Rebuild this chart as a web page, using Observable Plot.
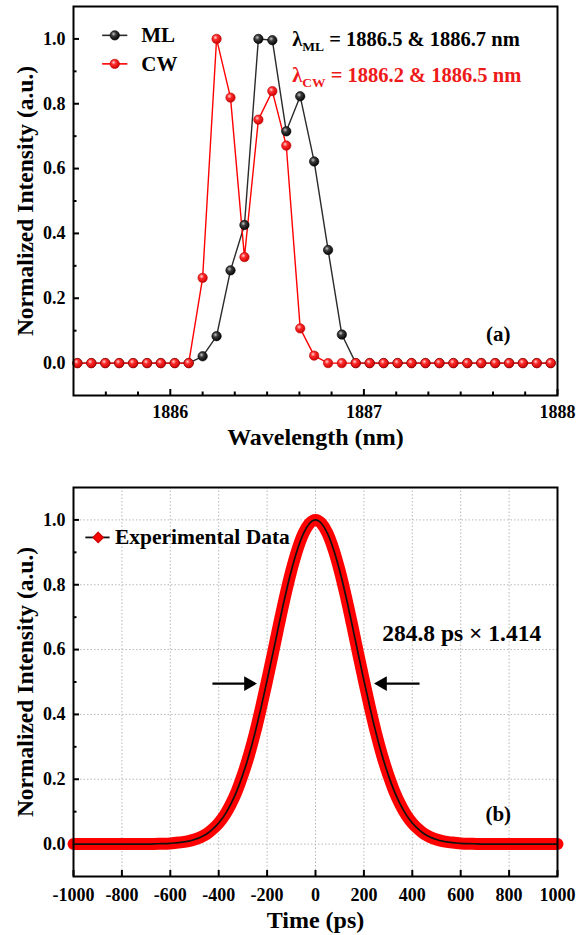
<!DOCTYPE html>
<html><head><meta charset="utf-8">
<script src="https://cdn.jsdelivr.net/npm/d3@7"></script>
<script src="https://cdn.jsdelivr.net/npm/@observablehq/plot@0.6"></script>
<style>
body{margin:0;background:#fff;}
#chart svg{display:block;}
</style></head><body><div id="chart"></div>
<script>
// ---------- Panel (a): optical spectra ----------
const wavelength = [1885.520, 1885.592, 1885.664, 1885.736, 1885.808, 1885.880, 1885.951, 1886.023, 1886.095, 1886.167,
  1886.239, 1886.311, 1886.383, 1886.455, 1886.527, 1886.599, 1886.671, 1886.743, 1886.815, 1886.886,
  1886.958, 1887.030, 1887.102, 1887.174, 1887.246, 1887.318, 1887.390, 1887.462, 1887.534, 1887.606,
  1887.678, 1887.750, 1887.821, 1887.893, 1887.965];
const mlIntensity = [0, 0, 0, 0, 0, 0, 0, 0, 0, 0.021,
  0.083, 0.286, 0.426, 1.000, 0.996, 0.715, 0.823, 0.622, 0.349, 0.088,
  0, 0, 0, 0, 0, 0, 0, 0, 0, 0,
  0, 0, 0, 0, 0];
const cwIntensity = [0, 0, 0, 0, 0, 0, 0, 0, 0, 0.263,
  1.000, 0.819, 0.327, 0.751, 0.839, 0.671, 0.107, 0.023, 0, 0,
  0, 0, 0, 0, 0, 0, 0, 0, 0, 0,
  0, 0, 0, 0, 0];
const seriesA = ["ML", "CW"];
const xTicksA = [1886, 1887, 1888];
const xMinorA = [1885.667, 1885.833, 1886.167, 1886.333, 1886.5, 1886.667, 1886.833, 1887.167, 1887.333, 1887.5, 1887.667, 1887.833];
const yTicks = [0, 0.2, 0.4, 0.6, 0.8, 1.0];
const yMinor = [0.1, 0.3, 0.5, 0.7, 0.9];

// ---------- Panel (b): autocorrelation trace ----------
const time = [-1000, -900, -800, -700, -650, -600, -575, -550, -525, -500, -475, -450, -425, -400, -375, -350, -325, -300,
  -275, -250, -225, -200, -175, -150, -125, -100, -75, -50, -25, 0, 25, 50, 75, 100, 125, 150, 175, 200, 225, 250,
  275, 300, 325, 350, 375, 400, 425, 450, 475, 500, 525, 550, 575, 600, 650, 700, 800, 900, 1000];
const acIntensity = [0, 0, 0, 0, 0.001, 0.002, 0.004, 0.006, 0.009, 0.014, 0.021, 0.031, 0.046, 0.065, 0.090, 0.123, 0.164, 0.215,
  0.274, 0.343, 0.421, 0.505, 0.592, 0.681, 0.766, 0.843, 0.908, 0.958, 0.989, 1.000, 0.989, 0.958, 0.908, 0.843, 0.766, 0.681, 0.592, 0.505, 0.421, 0.343,
  0.274, 0.215, 0.164, 0.123, 0.090, 0.065, 0.046, 0.031, 0.021, 0.014, 0.009, 0.006, 0.004, 0.002, 0.001, 0, 0, 0, 0];
const xTicksB = [-1000, -800, -600, -400, -200, 0, 200, 400, 600, 800, 1000];
const xGridB = [-800, -600, -400, -200, 0, 200, 400, 600, 800];
const fwhmLabel = "284.8 ps × 1.414";

// ---------- tables ----------
const specData = wavelength.flatMap((w, i) => [
  {w, v: mlIntensity[i], s: "ML"}, {w, v: cwIntensity[i], s: "CW"}]);
const acData = time.map((t, i) => ({t, v: acIntensity[i]}));

// annotation anchors (data units)
const legA = [{s: "ML", y: 1.011}, {s: "CW", y: 0.923}];
const legAx = {x1: 1885.648, x2: 1885.778, dot: 1885.713, text: 1885.85};
const noteA = [{t: "λML = 1886.5 & 1886.7 nm", y: 0.999, c: "#000"}, {t: "λCW = 1886.2 & 1886.5 nm", y: 0.888, c: "#ee1a1a"}];
const noteAx = 1886.630;
const arrowsB = [{x1: -426, x2: -277, y: 0.495, rot: 90}, {x1: 430, x2: 277, y: 0.495, rot: -90}];

const font = "'Liberation Serif','Times New Roman',serif";
const baseStyle = {fontFamily: font, fontSize: "18px", fontWeight: "bold", color: "#000", background: "#fff", overflow: "visible"};
const fmt1 = d3.format(".1f");
const colors = {ML: "#2a2a2a", CW: "#ff0000"};
const balls = {ML: "url(#ballBlack)", CW: "url(#ballRed)"};
const tf = {fontFamily: font, fontSize: 18, fontWeight: "bold", fill: "#000"};

function axes(xt, xm, xfmt, pad) {
  const m = [
    Plot.axisX({ticks: xt, tickSize: -6, tickPadding: pad, tickFormat: xfmt, strokeWidth: 2, label: null, ...tf}),
    Plot.axisY({ticks: yTicks, tickSize: -6, tickPadding: 14, tickFormat: fmt1, strokeWidth: 2, label: null, ...tf}),
    Plot.axisY({ticks: yMinor, tickSize: -3.5, tickFormat: () => "", strokeWidth: 2, label: null})
  ];
  if (xm) m.push(Plot.axisX({ticks: xm, tickSize: -3.5, tickFormat: () => "", strokeWidth: 2, label: null}));
  return m;
}

const plotA = Plot.plot({
  width: 576, height: 450,
  marginTop: 6, marginBottom: 55, marginLeft: 73, marginRight: 19,
  style: baseStyle,
  x: {domain: [1885.5, 1888]},
  y: {domain: [-0.1, 1.1]},
  marks: [
    ...axes(xTicksA, xMinorA, d => String(d), 15.5),
    ...seriesA.map(s => Plot.line(specData.filter(d => d.s === s), {x: "w", y: "v", stroke: colors[s], strokeWidth: 1.4})),
    ...seriesA.map(s => Plot.dot(specData.filter(d => d.s === s), {x: "w", y: "v", r: 4.7, fill: balls[s], stroke: s === "CW" ? "#c00000" : "#000", strokeWidth: 0.6})),
    // legend
    Plot.link(legA, {x1: () => legAx.x1, x2: () => legAx.x2, y1: "y", y2: "y", stroke: d => colors[d.s], strokeWidth: 1.6}),
    Plot.dot(legA, {x: () => legAx.dot, y: "y", r: 4.7, fill: d => balls[d.s], stroke: d => d.s === "CW" ? "#c00000" : "#000", strokeWidth: 0.6}),
    Plot.text(legA, {x: () => legAx.text, y: "y", text: "s", textAnchor: "start", fontSize: 21, fill: "#000"}),
    Plot.text(noteA, {x: () => noteAx, y: "y", text: "t", textAnchor: "start", fontSize: 20.5, fill: "c"}),
    Plot.text(["(a)"], {x: () => 1887.694, y: () => 0.088, text: d => d, fontSize: 21, fill: "#000"}),
    Plot.text(["Wavelength (nm)"], {frameAnchor: "bottom", dy: 42, text: d => d, fontSize: 24, textAnchor: "middle", lineAnchor: "middle", fill: "#000"}),
    Plot.text(["Normalized Intensity (a.u.)"], {frameAnchor: "left", dx: -48, rotate: -90, text: d => d, fontSize: 23.5, textAnchor: "middle", lineAnchor: "middle", fill: "#000"}),
    Plot.frame({stroke: "#000", strokeWidth: 2})
  ]
});

const plotB = Plot.plot({
  width: 576, height: 485,
  marginTop: 37, marginBottom: 59, marginLeft: 73, marginRight: 19,
  style: baseStyle,
  x: {domain: [-1000, 1000]},
  y: {domain: [-0.1, 1.1]},
  marks: [
    Plot.gridX({ticks: xGridB, stroke: "#b8b8b8", strokeOpacity: 1, strokeWidth: 1, strokeDasharray: "1.5,2"}),
    Plot.gridY({ticks: yTicks, stroke: "#b8b8b8", strokeOpacity: 1, strokeWidth: 1, strokeDasharray: "1.5,2"}),
    ...axes(xTicksB, null, d => String(d), 17.5),
    Plot.line(acData, {x: "t", y: "v", stroke: "#ff0000", strokeWidth: 12, curve: "monotone-x"}),
    Plot.dot(acData, {x: "t", y: "v", symbol: "diamond2", r: 4, fill: "#ff0000"}),
    Plot.line(acData, {x: "t", y: "v", stroke: "#111", strokeWidth: 1.7, curve: "monotone-x"}),
    // FWHM arrows
    Plot.link(arrowsB, {x1: "x1", x2: "x2", y1: "y", y2: "y", stroke: "#000", strokeWidth: 2.2}),
    Plot.dot(arrowsB, {x: "x2", y: "y", symbol: "triangle", r: 5.5, fill: "#000", rotate: "rot"}),
    Plot.text([fwhmLabel], {x: () => 275.6, y: () => 0.649, text: d => d, textAnchor: "start", fontSize: 23.5, fill: "#000"}),
    // legend
    Plot.link(["Experimental Data"], {x1: () => -951, x2: () => -851, y1: () => 0.946, y2: () => 0.946, stroke: "#111", strokeWidth: 1.8}),
    Plot.dot(["Experimental Data"], {x: () => -898, y: () => 0.946, symbol: "diamond2", r: 4.5, fill: "#ff0000", stroke: "#d00000"}),
    Plot.text(["Experimental Data"], {x: () => -829, y: () => 0.946, text: d => d, textAnchor: "start", fontSize: 21.5, fill: "#000"}),
    Plot.text(["(b)"], {x: () => 755, y: () => 0.092, text: d => d, fontSize: 21, fill: "#000"}),
    Plot.text(["Time (ps)"], {frameAnchor: "bottom", dy: 44, text: d => d, fontSize: 24, textAnchor: "middle", lineAnchor: "middle", fill: "#000"}),
    Plot.text(["Normalized Intensity (a.u.)"], {frameAnchor: "left", dx: -48, rotate: -90, text: d => d, fontSize: 23.5, textAnchor: "middle", lineAnchor: "middle", fill: "#000"}),
    Plot.frame({stroke: "#000", strokeWidth: 2})
  ]
});

// gradients for shaded spheres
const defs = d3.select(plotA).insert("defs", ":first-child");
function grad(id, stops) {
  const g = defs.append("radialGradient").attr("id", id).attr("cx", "0.38").attr("cy", "0.35").attr("r", "0.7");
  stops.forEach(([o, c]) => g.append("stop").attr("offset", o).attr("stop-color", c));
}
grad("ballRed", [[0, "#ffd6d6"], [0.35, "#ff2b2b"], [1, "#c40000"]]);
grad("ballBlack", [[0, "#c8c8c8"], [0.35, "#3a3a3a"], [1, "#000"]]);

// subscripts for λ annotations
const ns = "http://www.w3.org/2000/svg";
plotA.querySelectorAll("text").forEach(t => {
  const m = t.textContent.match(/^λ(ML|CW)(.*)$/);
  if (!m || t.children.length) return;
  t.textContent = "";
  const a = document.createElementNS(ns, "tspan"); a.textContent = "λ";
  const b = document.createElementNS(ns, "tspan"); b.textContent = m[1];
  b.setAttribute("font-size", "13.5"); b.setAttribute("dy", "5");
  const c = document.createElementNS(ns, "tspan"); c.textContent = m[2]; c.setAttribute("dy", "-5");
  t.append(a, b, c);
});

document.getElementById("chart").append(plotA, plotB);
</script>
</body></html>
